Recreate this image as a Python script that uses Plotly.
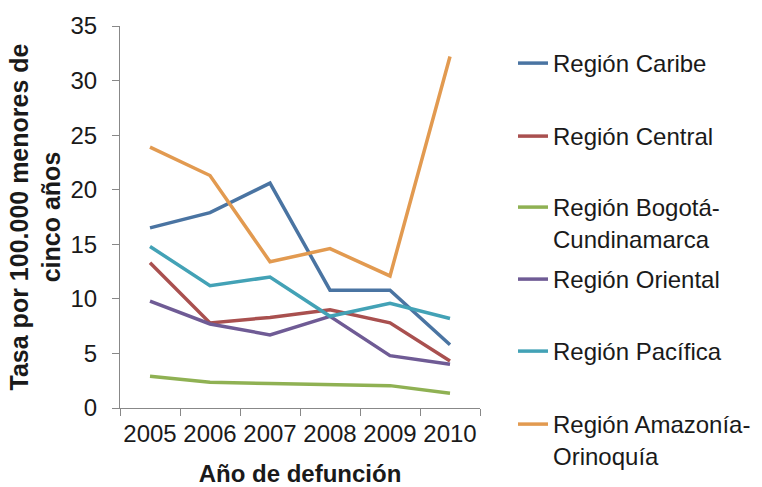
import plotly.graph_objects as go

years = ["2005", "2006", "2007", "2008", "2009", "2010"]

caribe = [16.5, 17.9, 20.6, 10.8, 10.8, 5.8]
central = [13.3, 7.8, 8.3, 9.0, 7.8, 4.3]
bogota = [2.9, 2.35, 2.25, 2.15, 2.05, 1.35]
oriental = [9.8, 7.7, 6.7, 8.4, 4.8, 4.0]
pacifica = [14.8, 11.2, 12.0, 8.4, 9.6, 8.2]
amazonia = [23.9, 21.3, 13.4, 14.6, 12.1, 32.2]

series_names = [
    "Región Caribe",
    "Región Central",
    "Región Bogotá-<br>Cundinamarca",
    "Región Oriental",
    "Región Pacífica",
    "Región Amazonía-<br>Orinoquía",
]
series_values = [caribe, central, bogota, oriental, pacifica, amazonia]
colors = ["#4A74A2", "#A9504F", "#8FB153", "#6F5B95", "#43A2B6", "#E29A50"]

y_ticks = [0, 5, 10, 15, 20, 25, 30, 35]

# legend entry first-line centres (pixels from top of page)
legend_centres_px = [64, 137, 208, 280, 352, 425]

W, H = 762, 487
ML, MR, MT, MB = 120, 282, 26, 79
plot_h = H - MT - MB
plot_w = W - ML - MR

fig = go.Figure()
legend_layouts = {}
for i, (name, vals, col) in enumerate(zip(series_names, series_values, colors)):
    lname = "legend" if i == 0 else f"legend{i + 1}"
    fig.add_trace(go.Scatter(
        x=years, y=vals, mode="lines", name=name,
        line=dict(color=col, width=3.5),
        legend=lname,
    ))
    top_px = legend_centres_px[i] - 23
    legend_layouts[lname] = dict(
        x=(513 - ML) / plot_w, y=1 - (top_px - MT) / plot_h,
        xanchor="left", yanchor="top",
        font=dict(size=24, color="#1a1a1a"),
        valign="top",
        bgcolor="rgba(0,0,0,0)",
    )

font_family = "Liberation Sans, Arial, sans-serif"

fig.update_layout(
    width=W, height=H,
    margin=dict(l=ML, r=MR, t=MT, b=MB, autoexpand=False),
    paper_bgcolor="white", plot_bgcolor="white",
    font=dict(family=font_family, color="#1a1a1a", size=24),
    showlegend=True,
    xaxis=dict(
        type="category",
        range=[-0.5, len(years) - 0.5],
        tickson="boundaries",
        tickangle=0,
        ticks="outside", ticklen=7, tickcolor="#888888",
        showline=True, linecolor="#888888", linewidth=1,
        showgrid=False, zeroline=False,
        tickfont=dict(size=24),
        ticklabelstandoff=4,
        automargin=False,
        title=dict(text="<b>Año de defunción</b>", font=dict(size=24), standoff=26),
    ),
    yaxis=dict(
        range=[0, 35], tickvals=y_ticks,
        ticks="outside", ticklen=7, tickcolor="#888888",
        showline=True, linecolor="#888888", linewidth=1,
        showgrid=False, zeroline=False,
        tickfont=dict(size=24),
        ticklabelstandoff=10,
        automargin=False,
        title=dict(text="<b>Tasa por 100.000 menores de<br>cinco años</b>", font=dict(size=25), standoff=2),
    ),
    **legend_layouts,
)

fig.write_html("out.html")
